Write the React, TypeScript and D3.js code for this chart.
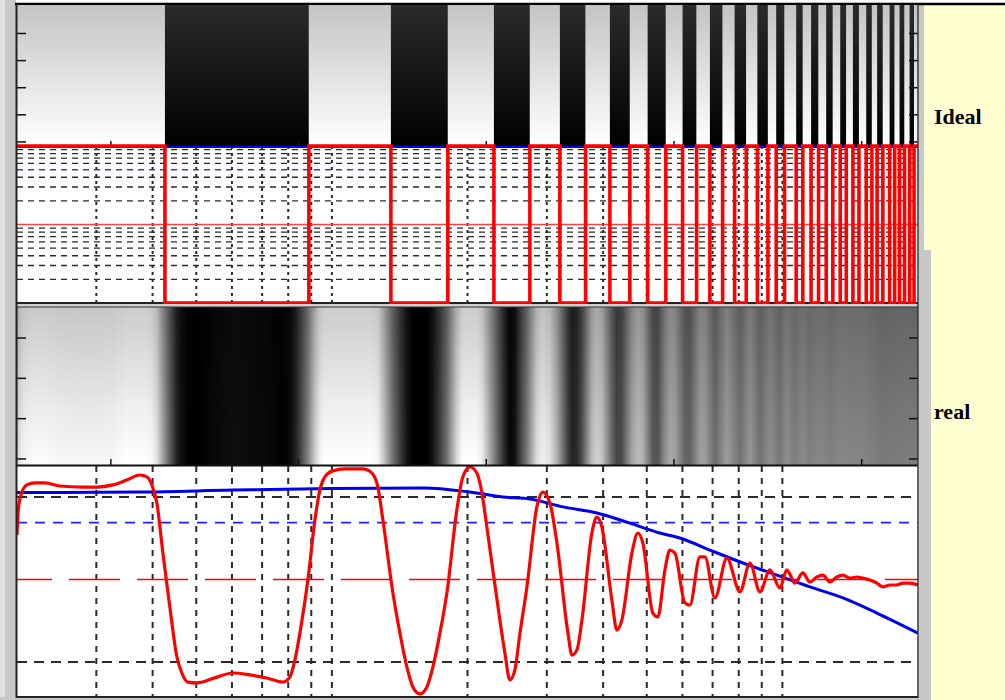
import React from 'react'
import * as d3 from 'd3'

// bar edges of the ideal test pattern, read on the log frequency axis
const idealEdges = [0.426, 0.889, 1.352, 1.809, 2.289, 2.751, 3.207, 3.658, 4.141, 4.586, 5.022, 5.512, 6.004, 6.45, 6.904, 7.368, 7.833, 8.314, 8.8, 9.287, 9.689, 10.11, 10.73, 11.1, 11.58, 12.03, 12.51, 12.94, 13.44, 13.86, 14.34, 14.79, 15.35, 15.8, 16.23, 16.71, 17.3, 17.75, 18.2, 18.67, 19.16, 19.6]
const idealHigh = 10
const idealLow = 0.1

// measured profile of the real (blurred) image
const realFreq = [0.2, 0.2013, 0.2048, 0.2104, 0.2192, 0.2306, 0.2489, 0.2802, 0.3009, 0.3265, 0.3508, 0.3748, 0.3886, 0.3985, 0.4088, 0.4216, 0.4368, 0.4529, 0.4645, 0.479, 0.5017, 0.5555, 0.6029, 0.6577, 0.7172, 0.7783, 0.8067, 0.8278, 0.8492, 0.8846, 0.9168, 0.9405, 0.9649, 1.005, 1.069, 1.172, 1.227, 1.265, 1.298, 1.366, 1.416, 1.467, 1.513, 1.568, 1.625, 1.676, 1.737, 1.8, 1.894, 1.953, 2.025, 2.098, 2.153, 2.208, 2.36, 2.421, 2.484, 2.548, 2.615, 2.71, 2.851, 2.94, 3.048, 3.159, 3.342, 3.411, 3.499, 3.59, 3.777, 3.875, 3.975, 4.183, 4.292, 4.403, 4.634, 4.778, 4.901, 5.158, 5.292, 5.486, 5.627, 5.773, 6.076, 6.233, 6.56, 6.73, 7.083, 7.53, 8.05, 8.473, 8.916, 9.383, 9.874, 10.23, 10.66, 11.1, 11.51, 11.93, 12.3, 12.75, 13.21, 13.63, 14.12, 14.64, 15.09, 15.64, 16.21, 16.71, 17.32, 17.96, 18.52, 19.19, 20]
const realLevel = [0.662, 0.753, 0.815, 0.844, 0.851, 0.851, 0.84, 0.836, 0.836, 0.844, 0.862, 0.88, 0.873, 0.844, 0.778, 0.596, 0.4, 0.218, 0.16, 0.127, 0.124, 0.145, 0.16, 0.153, 0.142, 0.127, 0.145, 0.207, 0.305, 0.498, 0.716, 0.825, 0.873, 0.895, 0.902, 0.902, 0.887, 0.836, 0.716, 0.451, 0.305, 0.182, 0.109, 0.084, 0.109, 0.182, 0.305, 0.451, 0.753, 0.873, 0.909, 0.887, 0.815, 0.691, 0.353, 0.233, 0.135, 0.171, 0.305, 0.473, 0.764, 0.818, 0.778, 0.633, 0.305, 0.225, 0.244, 0.353, 0.669, 0.727, 0.691, 0.425, 0.316, 0.353, 0.596, 0.669, 0.633, 0.378, 0.364, 0.535, 0.607, 0.596, 0.415, 0.407, 0.582, 0.582, 0.433, 0.578, 0.455, 0.56, 0.455, 0.535, 0.469, 0.535, 0.487, 0.524, 0.491, 0.509, 0.516, 0.491, 0.509, 0.516, 0.505, 0.509, 0.505, 0.498, 0.487, 0.473, 0.48, 0.48, 0.487, 0.487, 0.48]

// modulation envelope (blue)
const mtfFreq = [0.2, 0.375, 0.6, 1.0, 1.6, 2.025, 2.397, 2.751, 3.257, 3.875, 4.586, 5.347, 5.924, 6.904, 8.172, 9.723, 11.51, 13.63, 16.21, 20]
const mtfLevel = [0.816, 0.818, 0.825, 0.831, 0.833, 0.818, 0.8, 0.793, 0.764, 0.742, 0.705, 0.669, 0.651, 0.607, 0.56, 0.516, 0.473, 0.433, 0.378, 0.305]

const freqGrid = [0.3, 0.4, 0.5, 0.6, 0.7, 0.8, 0.9, 1, 2, 3, 4, 5, 6, 7, 8, 9, 10]
const idealGrid = [0.2, 0.3, 0.4, 0.5, 0.6, 0.7, 0.8, 0.9, 2, 3, 4, 5, 6, 7, 8, 9]
const idealRef = 1
const idealHalf = 5
const realGrid = [0.2, 0.8]
const realMean = 0.5
const realHalf = 0.707
const imgColTicks = [50, 150, 250, 350, 450]
const imgRowTicksTop = [10, 20, 30, 40, 50]
const imgRowTicksReal = [10, 20, 30, 40]

const W = 1005
const H = 700
const L = 17
const R = 918
const P1 = [5, 146]
const P2 = [146, 303]
const P3 = [307, 465]
const P4 = [466, 697]

export default function App() {
  const x = d3.scaleLog().domain([0.2, 20]).range([L, R])
  const yIdeal = d3.scaleLog().domain([0.1, 10]).range([P2[1], P2[0]])
  const yReal = d3.scaleLinear().domain([0.0727, 0.9127]).range([P4[1], P4[0]])
  const col = d3.scaleLinear().domain([0, 480]).range([L, R])
  const row1 = d3.scaleLinear().domain([-0.5, 51.5]).range([P1[0], P1[1]])
  const row3 = d3.scaleLinear().domain([2.3, 41.5]).range([P3[0], P3[1]])
  const grey = d3.scaleLinear<string>().domain([0.12, 0.86]).range(['#000', '#fff']).clamp(true)

  const bounds = [0.2, ...idealEdges, 20]
  const segs = d3.pairs(bounds).map(([a, b], i) => ({ a, b, dark: i % 2 === 1 }))
  const stepPts: [number, number][] = segs.map(s => [s.a, s.dark ? idealLow : idealHigh])
  stepPts.push([20, stepPts[stepPts.length - 1][1]])
  const stepLine = d3.line<[number, number]>().x(d => x(d[0])).y(d => yIdeal(d[1])).curve(d3.curveStepAfter)

  const realPts = realFreq.map((f, i) => [f, realLevel[i]] as [number, number])
  const mtfPts = mtfFreq.map((f, i) => [f, mtfLevel[i]] as [number, number])
  const realLine = d3.line<[number, number]>().x(d => x(d[0])).y(d => yReal(d[1])).curve(d3.curveMonotoneX)

  const dash = '#2a2a2a'

  return (
    <svg width={W} height={H} style={{ position: 'absolute', left: 0, top: 0 }}>
      <defs>
        <linearGradient id="shade" x1="0" y1="0" x2="0" y2="1">
          <stop offset="0" stopColor="#6b6b6b" stopOpacity={0.4} />
          <stop offset="1" stopColor="#6b6b6b" stopOpacity={0} />
        </linearGradient>
        <linearGradient id="shade3" x1="0" y1="0" x2="0" y2="1">
          <stop offset="0" stopColor="#000" stopOpacity={0.2} />
          <stop offset="0.65" stopColor="#000" stopOpacity={0.06} />
          <stop offset="1" stopColor="#000" stopOpacity={0} />
        </linearGradient>
        <linearGradient id="blur" x1="0" y1="0" x2="1" y2="0">
          {realPts.map((d, i) => (
            <stop key={i} offset={(x(d[0]) - L) / (R - L)} stopColor={grey(d[1])} />
          ))}
        </linearGradient>
        <clipPath id="c2"><rect x={L} y={P2[0]} width={R - L} height={P2[1] - P2[0]} /></clipPath>
        <clipPath id="c4"><rect x={L} y={P4[0]} width={R - L} height={P4[1] - P4[0]} /></clipPath>
      </defs>

      <rect width={W} height={H} fill="#fff" />
      {/* frame around the figure */}
      <rect x={0} y={0} width={16} height={H} fill="#c8c8c8" />
      <rect x={0} y={0} width={5} height={H} fill="#e0e0e0" />
      <rect x={0} y={697} width={W} height={3} fill="#c8c8c8" />
      <rect x={919} y={5} width={W - 919} height={H - 5} fill="#ffffd2" />
      <rect x={919} y={5} width={5} height={245} fill="#c8c8c8" />
      <rect x={919} y={250} width={12} height={H - 250} fill="#c8c8c8" />
      <line x1={15} x2={W} y1={4} y2={4} stroke="#000" strokeWidth={2.5} />

      {/* ideal image */}
      {segs.map((s, i) => (
        <rect key={i} x={x(s.a)} y={P1[0]} width={x(s.b) - x(s.a)} height={P1[1] - P1[0]}
          fill={s.dark ? '#000' : '#fff'} />
      ))}
      <rect x={L} y={P1[0]} width={R - L} height={P1[1] - P1[0]} fill="url(#shade)" />
      {imgRowTicksTop.map(t => (
        <g key={t}>
          <line x1={L} x2={L + 9} y1={row1(t)} y2={row1(t)} stroke="#111" strokeWidth={1.5} />
          <line x1={R - 9} x2={R} y1={row1(t)} y2={row1(t)} stroke="#111" strokeWidth={1.5} />
        </g>
      ))}
      {imgColTicks.map(t => (
        <line key={t} x1={col(t)} x2={col(t)} y1={P1[1]} y2={P1[1] - 5} stroke="#111" strokeWidth={1.5} />
      ))}

      {/* ideal profile */}
      <g clipPath="url(#c2)">
        {idealGrid.map(v => (
          <line key={v} x1={L} x2={R} y1={yIdeal(v)} y2={yIdeal(v)} stroke={dash} strokeWidth={1.4} strokeDasharray="6,5" />
        ))}
        {freqGrid.map(f => (
          <line key={f} x1={x(f)} x2={x(f)} y1={P2[0]} y2={P2[1]} stroke={dash} strokeWidth={2} strokeDasharray="3,4" />
        ))}
        <line x1={L} x2={R} y1={yIdeal(idealHalf)} y2={yIdeal(idealHalf)} stroke="#3030ff" strokeWidth={1.4} strokeDasharray="6,5" />
        <line x1={L} x2={R} y1={yIdeal(idealRef)} y2={yIdeal(idealRef)} stroke="#ff4040" strokeWidth={1.3} />
        <line x1={L} x2={R} y1={yIdeal(idealHigh) + 1} y2={yIdeal(idealHigh) + 1} stroke="#0000ff" strokeWidth={2} />
      </g>
      <line x1={L} x2={R} y1={P2[1]} y2={P2[1]} stroke="#222" strokeWidth={2} />
      <path d={stepLine(stepPts) || ''} fill="none" stroke="#ff0000" strokeWidth={3.6} />

      {/* real image */}
      <rect x={L} y={P2[1] + 1} width={R - L} height={P3[0] - P2[1] - 1} fill="#cfcfcf" />
      <rect x={L} y={P3[0]} width={R - L} height={P3[1] - P3[0]} fill="url(#blur)" />
      <rect x={L} y={P3[0]} width={R - L} height={P3[1] - P3[0]} fill="url(#shade3)" />
      <line x1={L} x2={R} y1={P3[0]} y2={P3[0]} stroke="#333" strokeWidth={1} />
      {imgRowTicksReal.map(t => (
        <g key={t}>
          <line x1={L} x2={L + 9} y1={row3(t)} y2={row3(t)} stroke="#111" strokeWidth={1.5} />
          <line x1={R - 9} x2={R} y1={row3(t)} y2={row3(t)} stroke="#111" strokeWidth={1.5} />
        </g>
      ))}
      {imgColTicks.map(t => (
        <line key={t} x1={col(t)} x2={col(t)} y1={P3[1]} y2={P3[1] - 6} stroke="#111" strokeWidth={1.5} />
      ))}

      {/* real profile */}
      <rect x={L} y={P4[0]} width={R - L} height={P4[1] - P4[0]} fill="#fff" />
      <g clipPath="url(#c4)">
        {realGrid.map(v => (
          <line key={v} x1={L} x2={R} y1={yReal(v)} y2={yReal(v)} stroke={dash} strokeWidth={2} strokeDasharray="10,7" />
        ))}
        {freqGrid.map(f => (
          <line key={f} x1={x(f)} x2={x(f)} y1={P4[0]} y2={P4[1]} stroke={dash} strokeWidth={2} strokeDasharray="6,6" />
        ))}
        <line x1={L} x2={R} y1={yReal(realHalf)} y2={yReal(realHalf)} stroke="#2020ff" strokeWidth={1.8} strokeDasharray="10,8" />
        <line x1={L} x2={R} y1={Math.round(yReal(realMean)) + 0.5} y2={Math.round(yReal(realMean)) + 0.5} stroke="#ff0000" strokeWidth={1.5} strokeDasharray="51,17" strokeDashoffset={16} />
        <path d={realLine(mtfPts) || ''} fill="none" stroke="#0000f0" strokeWidth={3} />
        <path d={realLine(realPts) || ''} fill="none" stroke="#ff0000" strokeWidth={3.2} />
      </g>

      {/* axes lines */}
      <line x1={L} x2={R} y1={P3[1] + 0.5} y2={P3[1] + 0.5} stroke="#111" strokeWidth={2} />
      <line x1={L} x2={R} y1={P4[1]} y2={P4[1]} stroke="#222" strokeWidth={2} />
      <line x1={L - 0.5} x2={L - 0.5} y1={4} y2={P4[1] + 1} stroke="#222" strokeWidth={2} />
      <line x1={R} x2={R} y1={4} y2={P4[1] + 1} stroke="#333" strokeWidth={1.5} />

      <text x={934} y={124} fontFamily="'Liberation Serif', 'Times New Roman', serif" fontWeight="bold" fontSize={22}>Ideal</text>
      <text x={934} y={419} fontFamily="'Liberation Serif', 'Times New Roman', serif" fontWeight="bold" fontSize={22}>real</text>
    </svg>
  )
}
